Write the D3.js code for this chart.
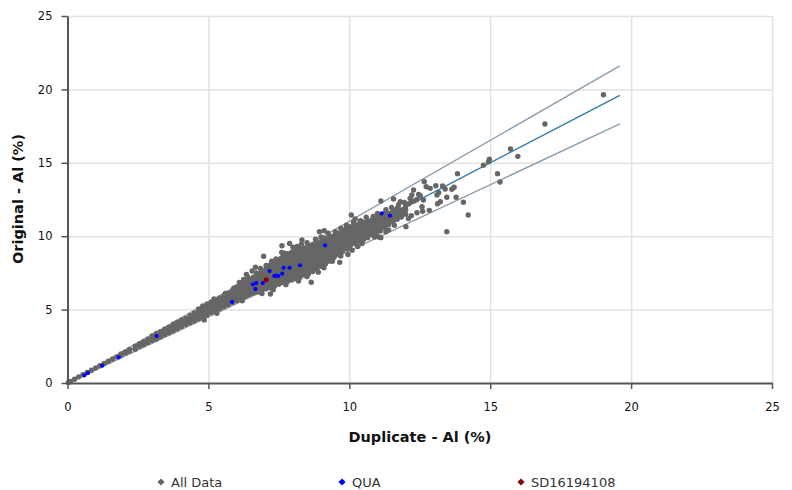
<!DOCTYPE html>
<html lang="en">
<head>
<meta charset="UTF-8">
<title>Original vs Duplicate - Al (%)</title>
<script src="https://d3js.org/d3.v7.min.js"></script>
<style>
    body { margin: 0; background: white; }
    svg { display: block; font-family: "DejaVu Sans", Verdana, sans-serif; }
    .grid line { stroke: #e2e2e2; stroke-width: 1.5; }
    .grid path { display: none; }
    .axis path, .axis line { stroke: #555; }
    .axis path { stroke-width: 2; }
    .axis line { stroke-width: 1.5; }
    .axis text { font-size: 11.5px; fill: #111; font-family: "DejaVu Sans", Verdana, sans-serif; }
    .axis-title { font-size: 14.5px; font-weight: bold; fill: #111; }
    .legend-label { font-size: 13px; fill: #333; }
</style>
</head>
<body>
<svg id="chart" width="792" height="490"></svg>
<script>
const xTicks = [0, 5, 10, 15, 20, 25];
const yTicks = [0, 5, 10, 15, 20, 25];

// slope lines: 1:1 and +/-10%, all stop at x = 19.6
const lineEndX = 19.6;
const centerLine = [[0, 0], [lineEndX, 19.6]];
const upperLine = [[0, 0], [lineEndX, 21.6]];
const lowerLine = [[0, 0], [lineEndX, 17.65]];

// dense part of the cloud, each row is x followed by the y values read at that x
const denseColumns = [
    [0.03, 0.03], [0.1, 0.1], [0.25, 0.26], [0.4, 0.42], [0.55, 0.56], [0.7, 0.72], [0.85, 0.87],
    [1.0, 1.02], [1.15, 1.17], [1.3, 1.33], [1.45, 1.48], [1.6, 1.63], [1.75, 1.78],
    [1.9, 1.9, 1.98], [2.05, 2.04, 2.12], [2.2, 2.16, 2.28], [2.4, 2.3, 2.5],
    [2.55, 2.5, 2.68], [2.7, 2.62, 2.82], [2.85, 2.76, 2.98], [3.0, 2.9, 3.05, 3.2],
    [3.15, 3.0, 3.2, 3.38], [3.3, 3.15, 3.32, 3.5], [3.45, 3.3, 3.5, 3.66],
    [3.6, 3.42, 3.62, 3.8], [3.75, 3.55, 3.78, 4.0], [3.9, 3.7, 3.9, 4.15],
    [4.05, 3.85, 4.08, 4.3], [4.2, 3.98, 4.22, 4.42], [4.35, 4.1, 4.35, 4.6],
    [4.5, 4.22, 4.5, 4.78], [4.65, 4.38, 4.62, 4.88, 5.05], [4.8, 4.5, 4.75, 5.0, 5.25],
    [4.95, 4.62, 4.88, 5.15, 5.38], [5.1, 4.78, 5.03, 5.28, 5.52], [5.25, 4.9, 5.15, 5.4, 5.65],
    [5.4, 5.05, 5.3, 5.55, 5.8], [5.55, 5.2, 5.45, 5.7, 5.95], [5.7, 5.32, 5.58, 5.85, 6.12],
    [5.85, 5.48, 5.72, 6.0, 6.28], [6.0, 5.6, 5.85, 6.12, 6.38, 6.55],
    [6.15, 5.75, 6.0, 6.25, 6.5, 6.7], [6.3, 5.9, 6.15, 6.4, 6.65, 6.9],
    [6.45, 6.05, 6.3, 6.55, 6.8, 7.05], [6.6, 6.15, 6.4, 6.68, 6.95, 7.2],
    [6.75, 6.2, 6.5, 6.78, 7.05, 7.35], [6.9, 6.3, 6.58, 6.85, 7.12, 7.4, 7.65],
    [7.05, 6.42, 6.7, 6.98, 7.25, 7.5, 7.78], [7.2, 6.48, 6.75, 7.02, 7.3, 7.58, 7.85, 8.05],
    [7.35, 6.6, 6.88, 7.15, 7.42, 7.7, 7.95, 8.2], [7.5, 6.72, 7.0, 7.28, 7.55, 7.8, 8.08, 8.35],
    [7.65, 6.85, 7.1, 7.38, 7.65, 7.92, 8.2, 8.48, 8.65], [7.8, 6.92, 7.2, 7.48, 7.75, 8.0, 8.28, 8.55, 8.8],
    [7.95, 7.02, 7.3, 7.55, 7.82, 8.1, 8.38, 8.65, 8.9], [8.1, 7.1, 7.38, 7.65, 7.92, 8.2, 8.48, 8.75, 9.02],
    [8.25, 7.2, 7.5, 7.75, 8.02, 8.3, 8.58, 8.85, 9.12], [8.4, 7.35, 7.6, 7.88, 8.15, 8.42, 8.7, 8.95, 9.2],
    [8.55, 7.45, 7.72, 8.0, 8.25, 8.52, 8.8, 9.05, 9.3], [8.7, 7.6, 7.85, 8.12, 8.4, 8.65, 8.9, 9.18, 9.42],
    [8.85, 7.75, 8.0, 8.28, 8.55, 8.8, 9.05, 9.3, 9.55], [9.0, 7.95, 8.2, 8.45, 8.7, 8.95, 9.2, 9.45, 9.65],
    [9.15, 8.1, 8.35, 8.6, 8.85, 9.12, 9.38, 9.62, 9.85], [9.3, 8.3, 8.55, 8.8, 9.05, 9.3, 9.55, 9.8, 10.0],
    [9.45, 8.55, 8.8, 9.05, 9.3, 9.55, 9.8, 10.02], [9.6, 8.75, 9.0, 9.25, 9.5, 9.75, 10.0, 10.2],
    [9.75, 8.95, 9.2, 9.45, 9.7, 9.95, 10.2, 10.4], [9.9, 9.15, 9.4, 9.65, 9.9, 10.15, 10.4, 10.55],
    [10.05, 9.4, 9.65, 9.9, 10.15, 10.4, 10.65], [10.2, 9.5, 9.75, 10.0, 10.25, 10.5, 10.75],
    [10.35, 9.65, 9.9, 10.15, 10.4, 10.65, 10.85], [10.5, 9.75, 10.0, 10.25, 10.5, 10.75, 10.95],
    [10.65, 9.9, 10.15, 10.4, 10.65, 10.9, 11.05], [10.8, 10.1, 10.35, 10.6, 10.85, 11.1],
    [10.95, 10.2, 10.45, 10.7, 10.95, 11.2], [11.1, 10.35, 10.6, 10.85, 11.1, 11.35],
    [11.25, 10.6, 10.85, 11.1, 11.35, 11.55], [11.4, 10.8, 11.05, 11.3, 11.55],
    [11.55, 11.0, 11.25, 11.5, 11.75], [11.7, 11.15, 11.4, 11.65, 11.9],
    [11.85, 11.3, 11.6, 11.8], [12.0, 11.5, 11.8, 12.05]
];

// more points inside the thick middle of the cloud, same row format
const middleColumns = [
    [6.08, 5.72, 5.98, 6.25, 6.5], [6.23, 5.85, 6.12, 6.38, 6.6], [6.38, 5.98, 6.28, 6.52, 6.78],
    [6.53, 6.12, 6.42, 6.68, 6.95], [6.68, 6.3, 6.6, 6.88, 7.15], [6.83, 6.38, 6.65, 6.92, 7.2, 7.48],
    [6.98, 6.45, 6.72, 7.0, 7.28, 7.55], [7.13, 6.55, 6.85, 7.12, 7.4, 7.65, 7.9],
    [7.28, 6.68, 6.95, 7.22, 7.5, 7.78, 8.05], [7.43, 6.78, 7.05, 7.32, 7.6, 7.85, 8.12],
    [7.58, 6.9, 7.18, 7.45, 7.72, 8.0, 8.28, 8.5], [7.73, 7.0, 7.28, 7.55, 7.82, 8.1, 8.38, 8.6],
    [7.88, 7.12, 7.4, 7.68, 7.95, 8.22, 8.5, 8.75], [8.03, 7.22, 7.48, 7.75, 8.02, 8.3, 8.55, 8.82],
    [8.18, 7.3, 7.58, 7.85, 8.12, 8.4, 8.65, 8.92], [8.33, 7.42, 7.7, 7.98, 8.25, 8.5, 8.78, 9.05],
    [8.48, 7.55, 7.82, 8.08, 8.35, 8.62, 8.88, 9.15], [8.63, 7.7, 7.95, 8.22, 8.48, 8.75, 9.0, 9.25],
    [8.78, 7.8, 8.08, 8.35, 8.6, 8.85, 9.12, 9.38], [8.93, 7.98, 8.22, 8.48, 8.72, 8.98, 9.25, 9.5],
    [9.08, 8.15, 8.4, 8.65, 8.9, 9.15, 9.42, 9.65], [9.23, 8.32, 8.58, 8.82, 9.08, 9.32, 9.58, 9.8],
    [9.38, 8.55, 8.8, 9.05, 9.3, 9.55, 9.8], [9.53, 8.78, 9.02, 9.28, 9.52, 9.78, 10.02],
    [9.68, 8.98, 9.22, 9.48, 9.72, 9.98, 10.22], [9.83, 9.18, 9.42, 9.68, 9.92, 10.18, 10.42],
    [9.98, 9.4, 9.65, 9.9, 10.15, 10.4], [10.13, 9.58, 9.82, 10.08, 10.32, 10.58],
    [10.28, 9.7, 9.95, 10.2, 10.45, 10.7], [10.43, 9.82, 10.08, 10.32, 10.58, 10.8],
    [10.58, 9.95, 10.2, 10.45, 10.7, 10.9], [10.73, 10.12, 10.38, 10.62, 10.88],
    [10.88, 10.25, 10.5, 10.75, 11.0], [11.03, 10.42, 10.68, 10.92, 11.18],
    [11.18, 10.6, 10.85, 11.1, 11.35], [11.33, 10.85, 11.1, 11.35],
    [11.48, 11.05, 11.3, 11.55], [11.63, 11.2, 11.45, 11.7]
];

// points that make the rough upper and lower edge of the cloud
const edgePoints = [
    [5.2, 5.72], [5.6, 6.1], [5.9, 6.45], [6.1, 6.85], [6.25, 7.05], [6.4, 7.2], [6.7, 7.5], [6.85, 7.8],
    [7.05, 8.0], [7.25, 8.3], [7.4, 8.45], [7.6, 8.9], [7.7, 8.85], [8.0, 9.25], [8.15, 9.3], [8.3, 9.45],
    [8.5, 9.55], [8.8, 9.8], [9.0, 9.95], [9.25, 10.2], [9.5, 10.3], [9.7, 10.55], [9.9, 10.75],
    [10.15, 10.95], [10.4, 11.05], [10.6, 11.3], [10.85, 11.35], [11.0, 11.55], [11.3, 11.8], [11.5, 11.95],
    [11.75, 12.15], [11.95, 12.3],
    [5.3, 4.75], [6.2, 5.6], [6.9, 6.1], [7.3, 6.35], [7.75, 6.7], [8.2, 6.95], [8.5, 7.25], [8.9, 7.55],
    [9.1, 7.85], [9.4, 8.3], [9.7, 8.65], [10.0, 9.2], [10.45, 9.5], [10.9, 9.95], [11.3, 10.3], [11.6, 10.75],
    [12.1, 11.2], [12.4, 11.6], [12.2, 11.4], [12.6, 11.7]
];

// loose points around and above the cloud
const loosePoints = [
    [19.02, 19.64], [16.94, 17.64], [15.72, 15.94], [15.98, 15.44], [14.97, 15.24], [14.94, 15.08],
    [14.76, 14.83], [15.26, 14.26], [15.35, 13.69], [13.84, 14.26], [12.66, 13.71], [12.73, 13.37],
    [12.87, 13.26], [13.07, 13.44], [13.31, 13.42], [13.4, 13.22], [13.72, 13.33], [13.64, 13.2],
    [13.46, 12.65], [13.79, 12.65], [14.05, 12.31], [14.22, 11.44], [13.46, 10.31], [13.23, 12.35],
    [13.13, 12.21], [13.11, 12.81], [13.17, 12.96], [12.84, 11.76], [12.58, 12.01], [12.01, 10.65],
    [12.28, 13.15], [12.46, 12.85], [12.52, 12.76], [12.22, 12.81], [12.16, 12.58], [12.63, 12.47],
    [12.3, 12.4], [12.4, 12.5], [12.1, 12.2], [12.2, 12.35], [11.12, 12.4], [11.57, 12.53],
    [11.81, 12.35], [10.07, 11.44], [11.12, 9.9], [11.05, 9.95], [11.39, 10.42], [6.96, 8.63],
    [6.55, 7.63], [6.67, 7.88], [6.35, 7.4], [7.61, 9.35], [7.88, 9.51], [8.32, 9.74], [8.94, 10.31],
    [9.11, 10.37], [10.21, 11.17], [8.65, 6.86], [7.2, 6.06], [9.66, 8.22], [4.85, 4.3], [10.1, 9.05],
    [10.3, 9.3], [9.95, 8.75]
];

const quaPoints = [
    [0.6, 0.52], [0.73, 0.68], [1.23, 1.18], [1.82, 1.75], [3.16, 3.2], [5.84, 5.52], [6.58, 6.72],
    [6.7, 6.81], [6.67, 6.4], [6.93, 6.81], [7.17, 7.63], [7.34, 7.29], [7.41, 7.31], [7.48, 7.29],
    [7.62, 7.45], [7.67, 7.85], [7.88, 7.85], [8.25, 8.02], [9.14, 9.38], [11.15, 11.56], [11.44, 11.4]
];

const sdPoints = [[7.05, 7.04]];

const legendNames = ["All Data", "QUA", "SD16194108"];
const legendColors = ["#666666", "#0000ff", "#8b0000"];

const allData = denseColumns.concat(middleColumns)
    .flatMap(c => c.slice(1).map(y => [c[0], y]))
    .concat(edgePoints, loosePoints);

const svg = d3.select("#chart");

const x = d3.scaleLinear().domain([0, 25]).range([67.5, 772]);
const y = d3.scaleLinear().domain([0, 25]).range([383, 16]);

// gridlines
svg.append("g")
    .attr("class", "grid")
    .attr("transform", "translate(0,383)")
    .call(d3.axisBottom(x).tickValues(xTicks.slice(1)).tickSize(-367).tickFormat(""));
svg.append("g")
    .attr("class", "grid")
    .attr("transform", "translate(67.5,0)")
    .call(d3.axisLeft(y).tickValues(yTicks.slice(1)).tickSize(-704.5).tickFormat(""));

// slope lines
const lineGen = d3.line().x(d => x(d[0])).y(d => y(d[1]));
svg.append("path").attr("d", lineGen(upperLine)).attr("fill", "none").attr("stroke", "#8a9fae").attr("stroke-width", 1.4);
svg.append("path").attr("d", lineGen(lowerLine)).attr("fill", "none").attr("stroke", "#8a9fae").attr("stroke-width", 1.4);
svg.append("path").attr("d", lineGen(centerLine)).attr("fill", "none").attr("stroke", "#2f7ba6").attr("stroke-width", 1.4);

// points
function drawPoints(data, color, r) {
    svg.append("g").selectAll("circle")
        .data(data)
        .join("circle")
        .attr("cx", d => x(d[0]))
        .attr("cy", d => y(d[1]))
        .attr("r", r)
        .attr("fill", color);
}
drawPoints(allData, legendColors[0], 2.7);
drawPoints(quaPoints, legendColors[1], 2.1);
drawPoints(sdPoints, legendColors[2], 2.5);

// axes
svg.append("g")
    .attr("class", "axis")
    .attr("transform", "translate(0,383)")
    .call(d3.axisBottom(x).tickValues(xTicks).tickSize(6).tickSizeOuter(0).tickPadding(14));
svg.append("g")
    .attr("class", "axis")
    .attr("transform", "translate(67.5,0)")
    .call(d3.axisLeft(y).tickValues(yTicks).tickSize(6).tickSizeOuter(0).tickPadding(9));

svg.append("text")
    .attr("class", "axis-title")
    .attr("x", 420)
    .attr("y", 442)
    .attr("text-anchor", "middle")
    .text("Duplicate - Al (%)");
svg.append("text")
    .attr("class", "axis-title")
    .attr("transform", "translate(23,199) rotate(-90)")
    .attr("text-anchor", "middle")
    .text("Original - Al (%)");

// legend
const legendX = d3.scaleOrdinal().domain(legendNames).range([161, 342, 521]);
const legend = svg.append("g").selectAll("g")
    .data(legendNames)
    .join("g")
    .attr("transform", d => `translate(${legendX(d)},482)`);
legend.append("path")
    .attr("d", d3.symbol().type(d3.symbolSquare).size(26))
    .attr("transform", "rotate(45)")
    .attr("fill", (d, i) => legendColors[i]);
legend.append("text")
    .attr("class", "legend-label")
    .attr("x", 10)
    .attr("y", 5)
    .text(d => d);
</script>
</body>
</html>
